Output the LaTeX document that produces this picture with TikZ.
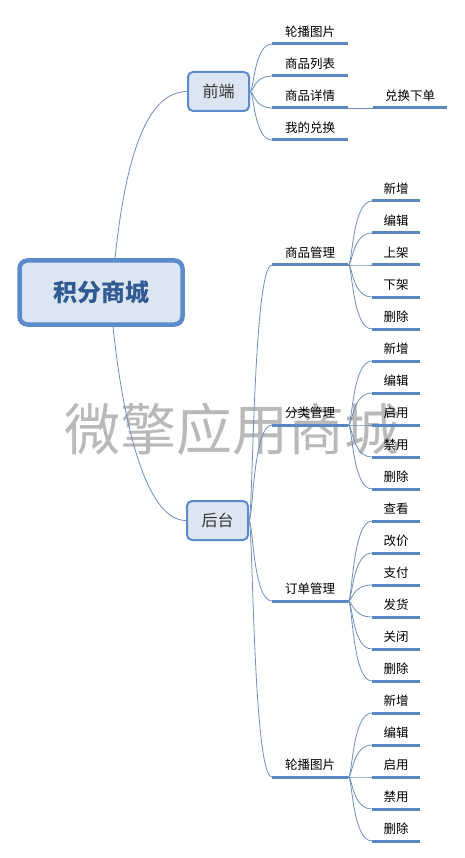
\documentclass[tikz,border=0pt]{standalone}
\usepackage{fontspec}
\newfontfamily\cjk{Noto Sans CJK SC}
\usetikzlibrary{calc}
\definecolor{branchblue}{HTML}{6F8FC0}
\definecolor{lineblue}{HTML}{5A86C2}
\definecolor{boxfill}{HTML}{DCE6F2}
\definecolor{boxdraw}{HTML}{5B8BCB}
\definecolor{roottext}{HTML}{2F5B92}

\begin{document}
\begin{tikzpicture}
  [x=1pt, y=-1pt,
   rootbox/.style={draw=boxdraw, line width=4.5pt, fill=boxfill, rounded corners=8pt, minimum width=163pt, minimum height=64pt, font=\cjk\bfseries\fontsize{24}{28}\selectfont, text=roottext},
   topicbox/.style={draw=boxdraw, line width=2pt, fill=boxfill, rounded corners=5pt, minimum width=61pt, minimum height=39pt, font=\cjk\fontsize{16}{19}\selectfont, text=black!80},
   uline/.style={draw=lineblue, line width=3pt},
   item/.style={inner sep=0pt, minimum height=25pt, anchor=south west, font=\cjk\fontsize{12.5}{15}\selectfont, append after command={(\tikzlastnode.south west) edge[uline] (\tikzlastnode.south east)}},
   sub/.style={item, minimum width=76pt},
   leaf/.style={item, minimum width=48pt},
   branch/.style={draw=branchblue, line width=0.8pt, to path={.. controls ($(\tikztostart)+(4,0)$) and ($(\tikztostart |- \tikztotarget)+(4,0)$) .. (\tikztotarget)}}]
	\fill[white] (0,0) rectangle (465,858);
	\useasboundingbox (0,0) rectangle (465,858);
	\node[font=\cjk\fontsize{56}{60}\selectfont, text=gray!55] (mark) at (232,429) {微擎应用商城};

	% root and main topics
	\node[rootbox] (root) at (101,292.5) {积分商城};
	\node[topicbox] (fe) at (218.5,91.5) {前端};
	\node[topicbox] (be) at (217.5,520.5) {后台};

	\draw[branchblue, line width=0.8pt] ($(root.north)+(14,0)$) .. controls (127,145) and (150,92) .. (fe.west);
	\draw[branchblue, line width=0.8pt] ($(root.south)+(12,0)$) .. controls (125,440) and (150,521) .. (be.west);

	% front end
	\node[sub] (fe1) at (272,44) {轮播图片};
	\node[sub] (fe2) at (272,76) {商品列表};
	\node[sub] (fe3) at (272,108) {商品详情};
	\node[sub] (fe4) at (272,140) {我的兑换};
	\node[item, minimum width=74pt] (fe31) at (373,108) {兑换下单};

	\draw[branch] (fe.east) to (fe1.south west);
	\draw[branch] (fe.east) to (fe2.south west);
	\draw[branch] (fe.east) to (fe3.south west);
	\draw[branch] (fe.east) to (fe4.south west);
	\draw[branchblue, line width=0.8pt] (fe3.south east) -- (fe31.south west);

	% back end
	\node[sub] (goods) at (272,265) {商品管理};
	\node[sub] (cate) at (272,425) {分类管理};
	\node[sub] (order) at (272,601) {订单管理};
	\node[sub] (banner) at (272,777) {轮播图片};

	\draw[branch] (be.east) to (goods.south west);
	\draw[branch] (be.east) to (cate.south west);
	\draw[branch] (be.east) to (order.south west);
	\draw[branch] (be.east) to (banner.south west);

	\node[leaf] (goods1) at (372,201) {新增};
	\node[leaf] (goods2) at (372,233) {编辑};
	\node[leaf] (goods3) at (372,265) {上架};
	\node[leaf] (goods4) at (372,297) {下架};
	\node[leaf] (goods5) at (372,329) {删除};

	\node[leaf] (cate1) at (372,361) {新增};
	\node[leaf] (cate2) at (372,393) {编辑};
	\node[leaf] (cate3) at (372,425) {启用};
	\node[leaf] (cate4) at (372,457) {禁用};
	\node[leaf] (cate5) at (372,489) {删除};

	\node[leaf] (order1) at (372,521) {查看};
	\node[leaf] (order2) at (372,553) {改价};
	\node[leaf] (order3) at (372,585) {支付};
	\node[leaf] (order4) at (372,617) {发货};
	\node[leaf] (order5) at (372,649) {关闭};
	\node[leaf] (order6) at (372,681) {删除};

	\node[leaf] (banner1) at (372,713) {新增};
	\node[leaf] (banner2) at (372,745) {编辑};
	\node[leaf] (banner3) at (372,777) {启用};
	\node[leaf] (banner4) at (372,809) {禁用};
	\node[leaf] (banner5) at (372,841) {删除};

	\draw[branch] (goods.south east) to (goods1.south west);
	\draw[branch] (goods.south east) to (goods2.south west);
	\draw[branch] (goods.south east) to (goods3.south west);
	\draw[branch] (goods.south east) to (goods4.south west);
	\draw[branch] (goods.south east) to (goods5.south west);

	\draw[branch] (cate.south east) to (cate1.south west);
	\draw[branch] (cate.south east) to (cate2.south west);
	\draw[branch] (cate.south east) to (cate3.south west);
	\draw[branch] (cate.south east) to (cate4.south west);
	\draw[branch] (cate.south east) to (cate5.south west);

	\draw[branch] (order.south east) to (order1.south west);
	\draw[branch] (order.south east) to (order2.south west);
	\draw[branch] (order.south east) to (order3.south west);
	\draw[branch] (order.south east) to (order4.south west);
	\draw[branch] (order.south east) to (order5.south west);
	\draw[branch] (order.south east) to (order6.south west);

	\draw[branch] (banner.south east) to (banner1.south west);
	\draw[branch] (banner.south east) to (banner2.south west);
	\draw[branch] (banner.south east) to (banner3.south west);
	\draw[branch] (banner.south east) to (banner4.south west);
	\draw[branch] (banner.south east) to (banner5.south west);
\end{tikzpicture}
\end{document}
